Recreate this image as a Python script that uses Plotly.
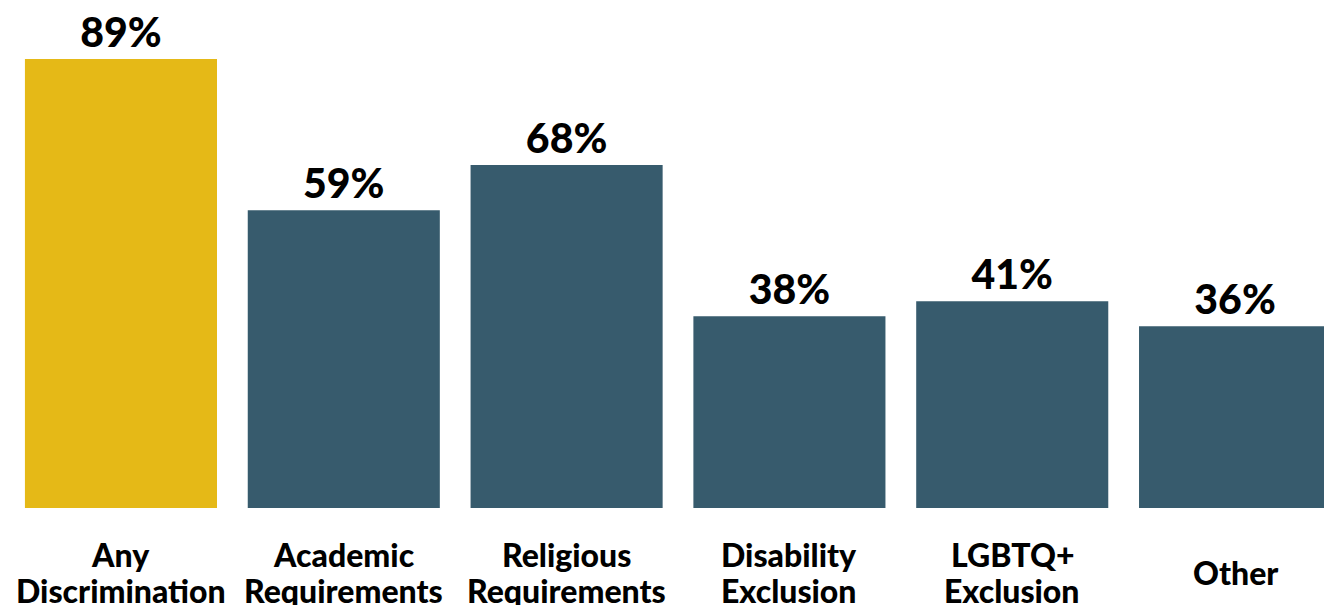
import plotly.graph_objects as go

categories = ["Any<br>Discrimination", "Academic<br>Requirements", "Religious<br>Requirements",
              "Disability<br>Exclusion", "LGBTQ+<br>Exclusion", "Other"]
values = [89, 59, 68, 38, 41, 36]
bar_colors = ["#E5B917", "#375B6D", "#375B6D", "#375B6D", "#375B6D", "#375B6D"]

FONT = "Lato, 'Open Sans', sans-serif"
LINE_PITCH = 36

fig = go.Figure()
fig.add_trace(go.Bar(
    x=list(range(len(categories))),
    y=values,
    marker=dict(color=bar_colors, line=dict(width=0)),
    text=[f"{v}%" for v in values],
    textposition="outside",
    textfont=dict(family=FONT, size=41, color="#000000", weight=900),
    cliponaxis=False,
    hoverinfo="skip",
))

for i, c in enumerate(categories):
    lines = c.split("<br>")
    n = len(lines)
    for j, line in enumerate(lines):
        fig.add_annotation(
            x=i, xref="x", y=0, yref="paper",
            yshift=-64 - (j - (n - 1) / 2) * LINE_PITCH,
            text=line, showarrow=False, yanchor="middle", xanchor="center",
            font=dict(family=FONT, size=32, color="#000000", weight=900),
        )

fig.update_layout(
    width=1332, height=605,
    margin=dict(l=0, r=0, t=0, b=105, pad=0),
    paper_bgcolor="white", plot_bgcolor="white",
    bargap=0.138,
    showlegend=False,
    xaxis=dict(range=[-0.507, 5.471], showticklabels=False, showgrid=False,
               zeroline=False, showline=False, ticks=""),
    yaxis=dict(range=[0, 99.1], visible=False, showgrid=False, zeroline=False),
)

fig.write_html("out.html")
